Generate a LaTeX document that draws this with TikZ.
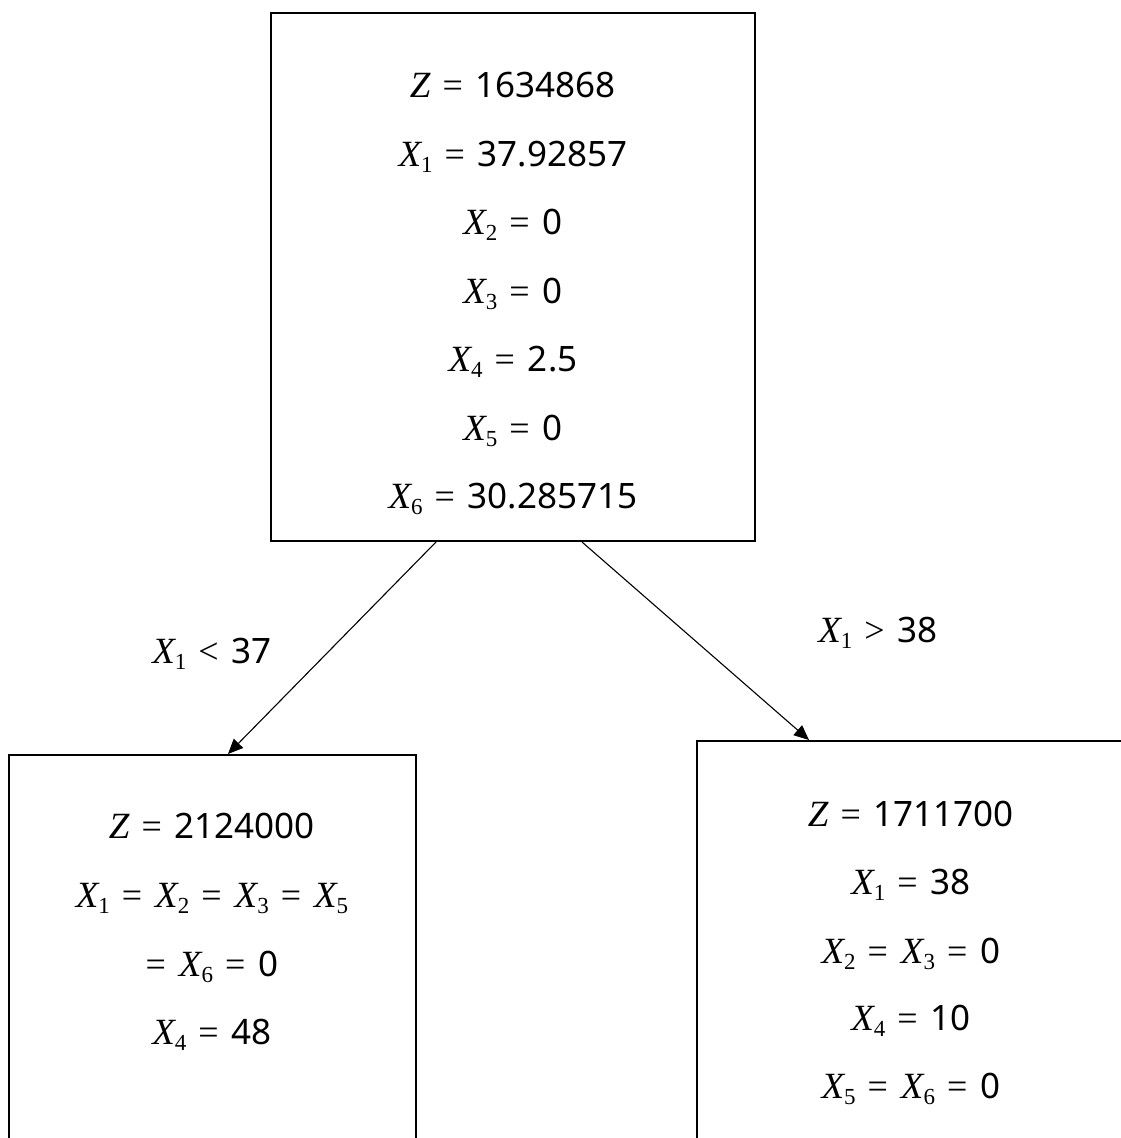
\documentclass[tikz,border=0pt]{standalone}
\usepackage{fontspec}
\setmainfont{Noto Sans}
\newfontfamily\varfont{Liberation Serif}
\usetikzlibrary{arrows.meta}
\newcommand\vr[2]{{\varfont\itshape\fontsize{37}{37}\selectfont #1}\raisebox{-6pt}{\varfont\fontsize{23}{23}\selectfont #2}}
\newcommand\vz{{\varfont\itshape\fontsize{37}{37}\selectfont Z}}
\newcommand\rel[1]{\hspace{12pt}{\varfont\fontsize{36}{36}\selectfont #1}\hspace{13pt}}
\tikzset{
  box/.style={draw, line width=2pt, inner sep=0pt, rectangle},
  txt/.style={anchor=base, inner sep=0pt, font=\fontsize{35}{42}\selectfont},
  conn/.style={line width=1.1pt, -{Triangle[length=15pt,width=13pt]}}
}
\begin{document}
\begin{tikzpicture}[x=1pt,y=-1pt]
\useasboundingbox (0,0) rectangle (1121,1138);
\clip (0,0) rectangle (1121,1138);
\node[box, minimum width=484pt, minimum height=528pt] (top) at (513,277) {};
\node[box, minimum width=407pt, minimum height=420pt] (lbox) at (212.5,965) {};
\node[box, minimum width=432pt, minimum height=430pt] (rbox) at (913,956) {};
% top box text
\node[txt] (t0) at (513,97) {\vz\rel{=}1634868};
\node[txt] (t1) at (513,166) {\vr{X}{1}\rel{=}37.92857};
\node[txt] (t2) at (513,234) {\vr{X}{2}\rel{=}0};
\node[txt] (t3) at (513,303) {\vr{X}{3}\rel{=}0};
\node[txt] (t4) at (513,371) {\vr{X}{4}\rel{=}2.5};
\node[txt] (t5) at (513,440) {\vr{X}{5}\rel{=}0};
\node[txt] (t6) at (513,508) {\vr{X}{6}\rel{=}30.285715};
% left box text
\node[txt] (l0) at (212,838) {\vz\rel{=}2124000};
\node[txt] (l1) at (212,907) {\vr{X}{1}\rel{=}\vr{X}{2}\rel{=}\vr{X}{3}\rel{=}\vr{X}{5}};
\node[txt] (l2) at (212,976) {{\varfont\fontsize{36}{36}\selectfont =}\hspace{13pt}\vr{X}{6}\rel{=}0};
\node[txt] (l3) at (212,1044) {\vr{X}{4}\rel{=}48};
% right box text
\node[txt] (r0) at (911,826) {\vz\rel{=}1711700};
\node[txt] (r1) at (911,894) {\vr{X}{1}\rel{=}38};
\node[txt] (r2) at (911,963) {\vr{X}{2}\rel{=}\vr{X}{3}\rel{=}0};
\node[txt] (r3) at (911,1030) {\vr{X}{4}\rel{=}10};
\node[txt] (r4) at (911,1098) {\vr{X}{5}\rel{=}\vr{X}{6}\rel{=}0};
% branch labels
\node[txt] (bl) at (212,663) {\vr{X}{1}\rel{<}37};
\node[txt] (br) at (878,642) {\vr{X}{1}\rel{>}38};
% connectors
\draw[conn] ([xshift=166pt]top.south west) -- ([xshift=220pt]lbox.north west);
\draw[conn] ([xshift=312pt]top.south west) -- ([xshift=113pt]rbox.north west);
\end{tikzpicture}
\end{document}
